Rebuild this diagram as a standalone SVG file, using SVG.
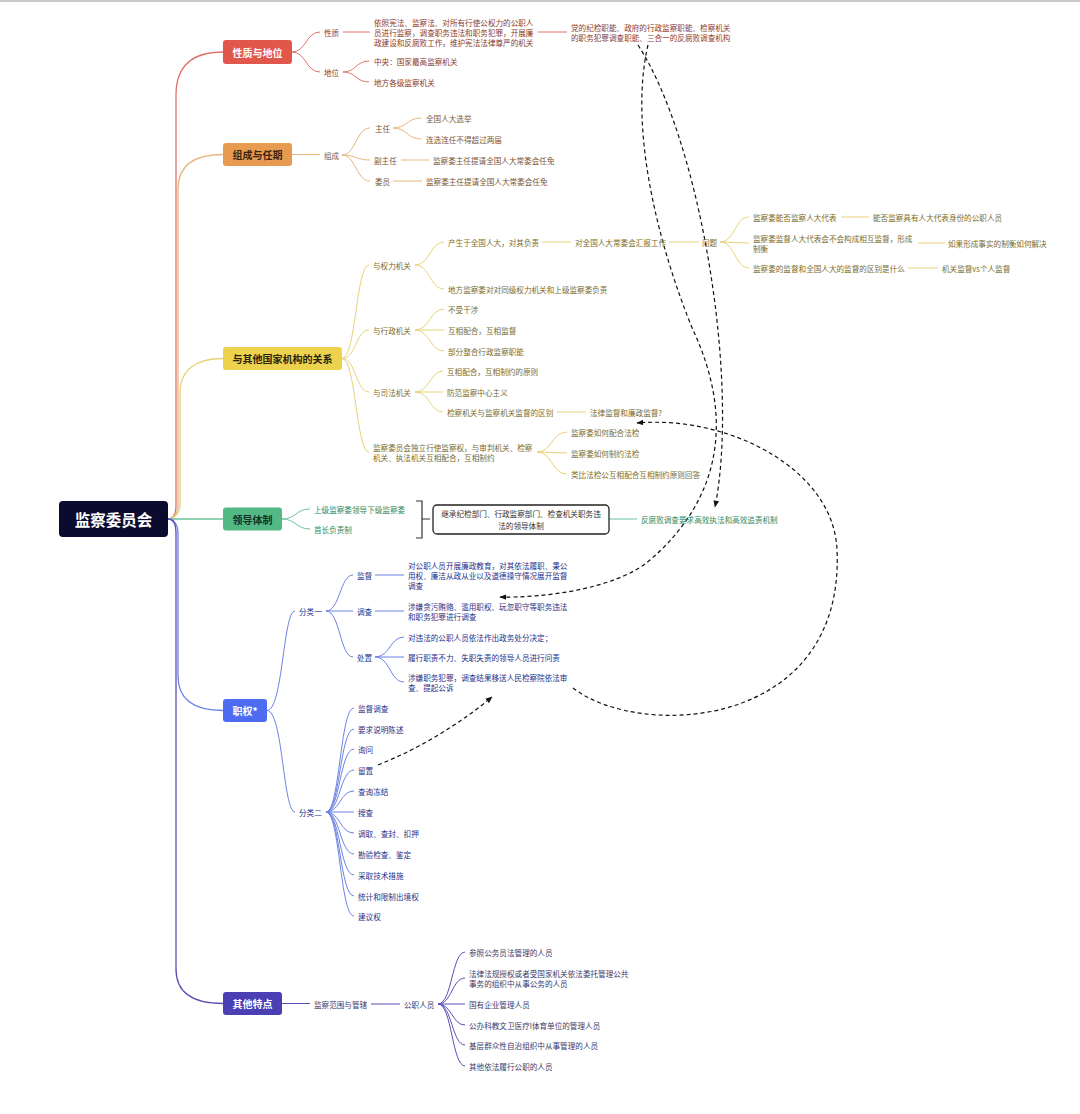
<svg xmlns="http://www.w3.org/2000/svg" width="1080" height="1114" viewBox="0 0 1080 1114">
<style>
text{font-family:"Noto Sans CJK SC","Noto Sans",sans-serif;font-size:7.6px;dominant-baseline:central}
.mt{font-size:10px;font-weight:bold;text-anchor:middle}
.root{font-size:15.5px;font-weight:bold;fill:#fff;text-anchor:middle}
.ln{fill:none;stroke-width:1}
.rl{fill:none;stroke-width:1.3}
.c1{fill:#8c3b2e}.l1{stroke:#e0736a}
.c2{fill:#7b5635}.l2{stroke:#e8b77e}
.c3{fill:#7a6c2c}.l3{stroke:#e8d27a}
.c4{fill:#2e8b64}.l4{stroke:#69c29a}
.c5{fill:#27308a}.l5{stroke:#6b82e3}
.c6{fill:#3b3b6b}.l6{stroke:#5a4fb5}
.dash{fill:none;stroke:#111;stroke-width:1.2;stroke-dasharray:4 3;marker-end:url(#arr)}
</style>
<defs>
<marker id="arr" viewBox="0 0 10 10" refX="9" refY="5" markerWidth="7" markerHeight="7" orient="auto" markerUnits="userSpaceOnUse"><path d="M0,1 L10,5 L0,9 z" fill="#111"/></marker>
</defs>
<rect x="0" y="0" width="1080" height="1114" fill="#fff"/>
<rect x="0" y="0" width="1080" height="2" fill="#c8c8c8"/>

<g id="connectors">
<path class="rl l1" d="M168,519 C174,519 176,513 176,505 L176,95 C176,65 193,52 223,52"/>
<path class="rl l2" d="M168,519 C174,519 178,513 178,505 L178,189 C178,165 195,154.5 223,154.5"/>
<path class="rl l3" d="M168,519 C174,519 180,513 180,505 L180,393 C180,369 197,358.5 223,358.5"/>
<path class="rl l4" d="M168,519 L223,519"/>
<path class="rl l5" d="M168,519 C174,519 178,525 178,533 L178,676 C178,700 195,710.5 223,710.5"/>
<path class="rl l6" d="M168,519 C174,519 176,525 176,533 L176,969 C176,993 193,1003.5 223,1003.5"/>

<g class="ln l1">
<path d="M292,52 C306,52 306,32 320,32"/><path d="M292,52 C306,52 306,72 320,72"/>
<path d="M343,32 L370,32"/><path d="M538,32 L567,32"/>
<path d="M343,72 C356,72 356,61 369,61"/><path d="M343,72 C356,72 356,82 369,82"/>
</g>
<g class="ln l2">
<path d="M292,154.5 L320,154.5"/>
<path d="M342,155 C356,155 356,128 370,128"/><path d="M342,155 C356,155 356,160 370,160"/><path d="M342,155 C356,155 356,181 370,181"/>
<path d="M393,128 C407,128 407,118 421,118"/><path d="M393,128 C407,128 407,139 421,139"/>
<path d="M401,160 L429,160"/><path d="M393,181 L422,181"/>
</g>
<g class="ln l3">
<path d="M342,358.5 C356,358.5 356,265 369,265"/><path d="M342,358.5 C356,358.5 356,330 369,330"/>
<path d="M342,358.5 C356,358.5 356,392 369,392"/><path d="M342,358.5 C356,358.5 356,452 369,452"/>
<path d="M415,265 C430,265 430,242 444,242"/><path d="M415,265 C430,265 430,289 444,289"/>
<path d="M542,242 L571,242"/><path d="M669,242 L699,242"/>
<path d="M720,242 C735,242 735,217 749,217"/><path d="M720,242 L749,243"/><path d="M720,242 C735,242 735,268 749,268"/>
<path d="M841,217 L869,217"/><path d="M918,243 L945,243"/><path d="M908,268 L938,268"/>
<path d="M415,330 C430,330 430,309 444,309"/><path d="M415,330 L444,330"/><path d="M415,330 C430,330 430,351 444,351"/>
<path d="M415,392 C430,392 430,371 443,371"/><path d="M415,392 L443,392"/><path d="M415,392 C430,392 430,412 443,412"/>
<path d="M557,412 L586,412"/>
<path d="M537,452 C552,452 552,432 567,432"/><path d="M537,452 L567,453"/><path d="M537,452 C552,452 552,474 567,474"/>
</g>
<g class="ln l4">
<path d="M282,519 C296,519 296,509 310,509"/><path d="M282,519 C296,519 296,529 310,529"/>
<path d="M609,519 L637,519"/>
</g>
<path d="M416,501 L422,501 L422,538 L416,538 M422,519 L430,519" fill="none" stroke="#333" stroke-width="1.2"/>
<g class="ln l5">
<path d="M267,710.5 C283,710.5 283,611 295,611"/><path d="M267,710.5 C283,710.5 283,812 295,812"/>
<path d="M326,611 C340,611 340,575 353,575"/><path d="M326,611 L353,611"/><path d="M326,611 C340,611 340,657 353,657"/>
<path d="M375,575 L404,575"/><path d="M375,611 L404,611"/>
<path d="M375,657 C390,657 390,637 404,637"/><path d="M375,657 L404,657"/><path d="M375,657 C390,657 390,682 404,682"/>
<path d="M326,812 C340,812 340,708 354,708"/><path d="M326,812 C340,812 340,729 354,729"/>
<path d="M326,812 C340,812 340,749 354,749"/><path d="M326,812 C340,812 340,770 354,770"/>
<path d="M326,812 C340,812 340,791 354,791"/><path d="M326,812 L354,812"/>
<path d="M326,812 C340,812 340,833 354,833"/><path d="M326,812 C340,812 340,854 354,854"/>
<path d="M326,812 C340,812 340,875 354,875"/><path d="M326,812 C340,812 340,896 354,896"/>
<path d="M326,812 C340,812 340,916 354,916"/>
</g>
<g class="ln l6">
<path d="M282,1003.5 L310,1003.5"/><path d="M371,1004 L400,1004"/>
<path d="M438,1004 C452,1004 452,952 465,952"/><path d="M438,1004 C452,1004 452,978 465,978"/>
<path d="M438,1004 L465,1004"/><path d="M438,1004 C452,1004 452,1025 465,1025"/>
<path d="M438,1004 C452,1004 452,1045 465,1045"/><path d="M438,1004 C452,1004 452,1066 465,1066"/>
</g>
<path class="dash" d="M638,45 C700,140 740,380 715,507"/>
<path class="dash" d="M648,45 C628,130 660,250 693,330 C735,420 720,500 650,560 C615,590 540,598 500,597"/>
<path class="dash" d="M573,688 C640,740 845,730 837,550 C834,470 730,415 637,423"/>
<path class="dash" d="M378,765 Q440,740 492,697"/>
</g>

<g id="root">
<rect x="59" y="501" width="109" height="36" rx="4" fill="#0b0b2e"/>
<text class="root" x="113.5" y="519">监察委员会</text>
</g>

<g id="n1">
<rect x="223" y="40" width="69" height="24" rx="3" fill="#e2574c"/>
<text class="mt" x="257.5" y="52" fill="#fff">性质与地位</text>
<text class="c1" x="324" y="32">性质</text>
<text class="c1" x="374" y="22">依照宪法、监察法、对所有行使公权力的公职人</text>
<text class="c1" x="374" y="32">员进行监察，调查职务违法和职务犯罪，开展廉</text>
<text class="c1" x="374" y="42">政建设和反腐败工作，维护宪法法律尊严的机关</text>
<text class="c1" x="571" y="27">党的纪检职能、政府的行政监察职能、检察机关</text>
<text class="c1" x="571" y="37">的职务犯罪调查职能、三合一的反腐败调查机构</text>
<text class="c1" x="324" y="72">地位</text>
<text class="c1" x="374" y="61">中央：国家最高监察机关</text>
<text class="c1" x="374" y="82">地方各级监察机关</text>
</g>

<g id="n2">
<rect x="223" y="143" width="69" height="23" rx="3" fill="#e69b51"/>
<text class="mt" x="257.5" y="154.5" fill="#3a2412">组成与任期</text>
<text class="c2" x="324" y="155">组成</text>
<text class="c2" x="375" y="128">主任</text>
<text class="c2" x="426" y="118">全国人大选举</text>
<text class="c2" x="426" y="139">连选连任不得超过两届</text>
<text class="c2" x="374" y="160">副主任</text>
<text class="c2" x="433" y="160">监察委主任提请全国人大常委会任免</text>
<text class="c2" x="375" y="181">委员</text>
<text class="c2" x="426" y="181">监察委主任提请全国人大常委会任免</text>
</g>

<g id="n3">
<rect x="223" y="347" width="119" height="23" rx="3" fill="#ecd24d"/>
<text class="mt" x="282.5" y="358.5" fill="#2a2410">与其他国家机构的关系</text>
<text class="c3" x="373" y="265">与权力机关</text>
<text class="c3" x="448" y="242">产生于全国人大，对其负责</text>
<text class="c3" x="575" y="242">对全国人大常委会汇报工作</text>
<text class="c3" x="702" y="242">问题</text>
<text class="c3" x="753" y="217">监察委能否监察人大代表</text>
<text class="c3" x="873" y="217">能否监察具有人大代表身份的公职人员</text>
<text class="c3" x="753" y="238">监察委监督人大代表会不会构成相互监督，形成</text>
<text class="c3" x="753" y="248">制衡</text>
<text class="c3" x="948" y="243">如果形成事实的制衡如何解决</text>
<text class="c3" x="753" y="268">监察委的监督和全国人大的监督的区别是什么</text>
<text class="c3" x="942" y="268">机关监督vs个人监督</text>
<text class="c3" x="448" y="289">地方监察委对对同级权力机关和上级监察委负责</text>
<text class="c3" x="373" y="330">与行政机关</text>
<text class="c3" x="448" y="309">不受干涉</text>
<text class="c3" x="448" y="330">互相配合，互相监督</text>
<text class="c3" x="448" y="351">部分整合行政监察职能</text>
<text class="c3" x="373" y="392">与司法机关</text>
<text class="c3" x="447" y="371">互相配合，互相制约的原则</text>
<text class="c3" x="447" y="392">防范监察中心主义</text>
<text class="c3" x="447" y="412">检察机关与监察机关监督的区别</text>
<text class="c3" x="590" y="412">法律监督和廉政监督?</text>
<text class="c3" x="373" y="447">监察委员会独立行使监察权，与审判机关、检察</text>
<text class="c3" x="373" y="457">机关、执法机关互相配合，互相制约</text>
<text class="c3" x="571" y="432">监察委如何配合法检</text>
<text class="c3" x="571" y="453">监察委如何制约法检</text>
<text class="c3" x="571" y="474">类比法检公互相配合互相制约原则回答</text>
</g>

<g id="n4">
<rect x="223" y="507.5" width="59" height="23" rx="3" fill="#54b884"/>
<text class="mt" x="252.5" y="519" fill="#12301f">领导体制</text>
<text class="c4" x="314" y="509">上级监察委领导下级监察委</text>
<text class="c4" x="314" y="529">首长负责制</text>
<rect x="433" y="505" width="176" height="29" rx="4" fill="#fff" stroke="#222" stroke-width="1.3"/>
<text x="521" y="513.5" fill="#333" text-anchor="middle">继承纪检部门、行政监察部门、检查机关职务违</text>
<text x="521" y="525" fill="#333" text-anchor="middle">法的领导体制</text>
<text class="c4" x="641" y="519">反腐败调查要求高效执法和高效追责机制</text>
</g>

<g id="n5">
<rect x="223" y="699" width="44" height="23" rx="3" fill="#4e6cf2"/>
<text class="mt" x="245" y="710.5" fill="#fff">职权*</text>
<text class="c5" x="299" y="611">分类一</text>
<text class="c5" x="357" y="575">监督</text>
<text class="c5" x="408" y="565">对公职人员开展廉政教育，对其依法履职、秉公</text>
<text class="c5" x="408" y="575">用权、廉洁从政从业以及道德操守情况展开监督</text>
<text class="c5" x="408" y="585">调查</text>
<text class="c5" x="357" y="611">调查</text>
<text class="c5" x="408" y="606">涉嫌贪污贿赂、滥用职权、玩忽职守等职务违法</text>
<text class="c5" x="408" y="616">和职务犯罪进行调查</text>
<text class="c5" x="357" y="657">处置</text>
<text class="c5" x="408" y="637">对违法的公职人员依法作出政务处分决定；</text>
<text class="c5" x="408" y="657">履行职责不力、失职失责的领导人员进行问责</text>
<text class="c5" x="408" y="677">涉嫌职务犯罪，调查结果移送人民检察院依法审</text>
<text class="c5" x="408" y="687">查、提起公诉</text>
<text class="c5" x="299" y="812">分类二</text>
<text class="c5" x="358" y="708">监督调查</text>
<text class="c5" x="358" y="729">要求说明陈述</text>
<text class="c5" x="358" y="749">询问</text>
<text class="c5" x="358" y="770">留置</text>
<text class="c5" x="358" y="791">查询冻结</text>
<text class="c5" x="358" y="812">搜查</text>
<text class="c5" x="358" y="833">调取、查封、扣押</text>
<text class="c5" x="358" y="854">勘验检查、鉴定</text>
<text class="c5" x="358" y="875">采取技术措施</text>
<text class="c5" x="358" y="896">统计和限制出境权</text>
<text class="c5" x="358" y="916">建议权</text>
</g>

<g id="n6">
<rect x="223" y="992" width="59" height="23" rx="3" fill="#4b3fb4"/>
<text class="mt" x="252.5" y="1003.5" fill="#fff">其他特点</text>
<text class="c6" x="314" y="1004">监察范围与管辖</text>
<text class="c6" x="404" y="1004">公职人员</text>
<text class="c6" x="469" y="952">参照公务员法管理的人员</text>
<text class="c6" x="469" y="973">法律法规授权或者受国家机关依法委托管理公共</text>
<text class="c6" x="469" y="983">事务的组织中从事公务的人员</text>
<text class="c6" x="469" y="1004">国有企业管理人员</text>
<text class="c6" x="469" y="1025">公办科教文卫医疗l体育单位的管理人员</text>
<text class="c6" x="469" y="1045">基层群众性自治组织中从事管理的人员</text>
<text class="c6" x="469" y="1066">其他依法履行公职的人员</text>
</g>
</svg>
